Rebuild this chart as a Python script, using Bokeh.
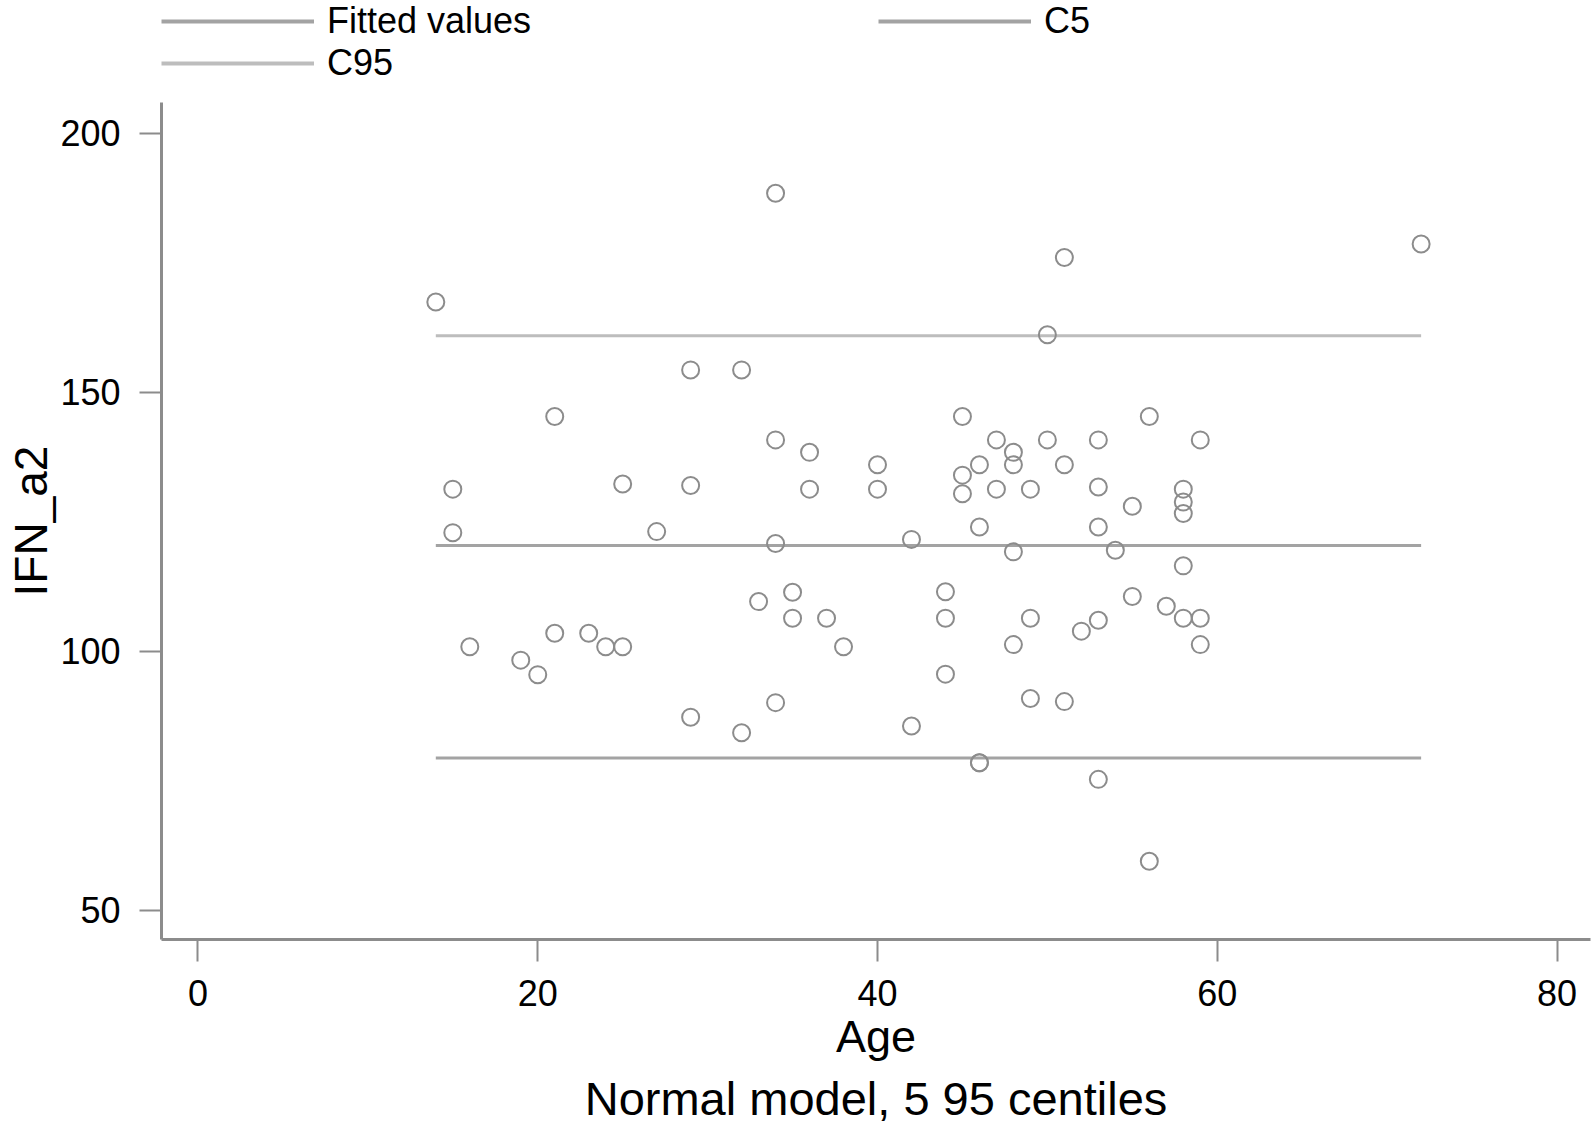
from bokeh.plotting import figure
from bokeh.models import Range1d, Legend, LegendItem, Title, FixedTicker
from bokeh.layouts import column
from bokeh.embed import file_html
from bokeh.resources import INLINE

# ---- data ----
age = [14, 34, 51, 72, 50, 29, 32, 21, 45, 56,
       34, 47, 50, 53, 59, 36, 48, 40, 46, 48,
       51, 45, 25, 29, 15, 36, 40, 45, 47, 49,
       53, 58, 58, 55, 58, 27, 15, 46, 53, 42,
       34, 48, 54, 58, 35, 44, 33, 55, 57, 35,
       37, 44, 49, 53, 58, 59, 21, 23, 52, 16,
       24, 25, 38, 48, 59, 19, 20, 44, 34, 49,
       51, 29, 42, 32, 46, 46, 53, 56]
ifn_a2 = [167.4, 188.4, 176.0, 178.6, 161.1, 154.3, 154.3, 145.3, 145.3, 145.3,
          140.8, 140.8, 140.8, 140.8, 140.8, 138.4, 138.4, 136.0, 136.0, 136.0,
          136.0, 134.0, 132.3, 132.0, 131.3, 131.3, 131.3, 130.4, 131.3, 131.3,
          131.7, 131.3, 128.8, 128.0, 126.6, 123.1, 122.9, 124.0, 124.0, 121.6,
          120.8, 119.2, 119.5, 116.5, 111.4, 111.5, 109.6, 110.6, 108.7, 106.4,
          106.4, 106.4, 106.4, 106.0, 106.4, 106.4, 103.5, 103.5, 103.9, 100.9,
          100.9, 100.9, 100.9, 101.3, 101.3, 98.3, 95.5, 95.6, 90.1, 90.9,
          90.3, 87.3, 85.6, 84.3, 78.5, 78.5, 75.3, 59.5]

line_age = [14, 72]
fitted = [120.4, 120.4]
c5 = [79.4, 79.4]
c95 = [160.9, 160.9]

x_ticks = [0, 20, 40, 60, 80]
y_ticks = [50, 100, 150, 200]

series_names = ["Fitted values", "C5", "C95"]
series_values = [fitted, c5, c95]

FONT = "Liberation Sans"
GREY = "#8c8c8c"
LINE_COL = {"Fitted values": "#a3a3a3", "C5": "#a3a3a3", "C95": "#bdbdbd"}

# ---- main plot ----
p = figure(width=1595, height=1029,
           x_range=Range1d(-2.147, 81.97), y_range=Range1d(44.4, 205.9),
           output_backend="svg", toolbar_location=None,
           min_border_left=160, min_border_right=5,
           min_border_top=0, min_border_bottom=192)
p.grid.visible = False
p.outline_line_color = None

for name, ys in zip(series_names, series_values):
    p.line(line_age, ys, line_color=LINE_COL[name], line_width=3)

p.scatter(age, ifn_a2, marker="circle", size=17, fill_color=None,
          line_color=GREY, line_width=2)

p.xaxis.ticker = FixedTicker(ticks=x_ticks)
p.yaxis.ticker = FixedTicker(ticks=y_ticks)
for ax in (p.xaxis, p.yaxis):
    ax.axis_line_color = GREY
    ax.axis_line_width = 3
    ax.major_tick_line_color = GREY
    ax.major_tick_line_width = 2
    ax.major_tick_out = 22
    ax.major_tick_in = 0
    ax.minor_tick_line_color = None
    ax.major_label_text_font = FONT
    ax.major_label_text_font_size = "36px"
    ax.major_label_text_color = "black"
    ax.axis_label_text_font = FONT
    ax.axis_label_text_font_style = "normal"
    ax.axis_label_text_color = "black"

p.xaxis.axis_label = "Age"
p.xaxis.axis_label_text_font_size = "45px"
p.xaxis.major_label_standoff = 18
p.xaxis.axis_label_standoff = 2

p.yaxis.axis_label = "IFN_a2"
p.yaxis.axis_label_text_font_size = "46px"
p.yaxis.major_label_standoff = 19
p.yaxis.axis_label_standoff = 0

subtitle = Title(text="Normal model, 5 95 centiles", align="center",
                 text_font=FONT, text_font_size="47px",
                 text_font_style="normal", text_color="black", standoff=10)
p.add_layout(subtitle, "below")

# ---- legend strip on top (swatch renderers lie outside its 0..1 ranges) ----
leg = figure(width=1595, height=102, x_range=Range1d(0, 1), y_range=Range1d(0, 1),
             x_axis_type=None, y_axis_type=None,
             output_backend="svg", toolbar_location=None,
             min_border_left=161, min_border_right=0,
             min_border_top=0, min_border_bottom=0)
leg.grid.visible = False
leg.outline_line_color = None
items = []
for name, ys in zip(series_names, series_values):
    r = leg.line(line_age, ys, line_color=LINE_COL[name], line_width=4)
    items.append(LegendItem(label=name, renderers=[r]))
legend = Legend(items=items, location="top_left", orientation="horizontal",
                ncols=2, glyph_width=153, glyph_height=38, label_height=38,
                label_standoff=13, label_width=551, spacing=0, padding=0,
                margin=0, border_line_color=None, background_fill_alpha=0,
                label_text_font=FONT, label_text_font_size="36px",
                label_text_color="black")
leg.add_layout(legend)

layout = column(leg, p, spacing=0)

open("out.html", "w").write(file_html(layout, INLINE))
